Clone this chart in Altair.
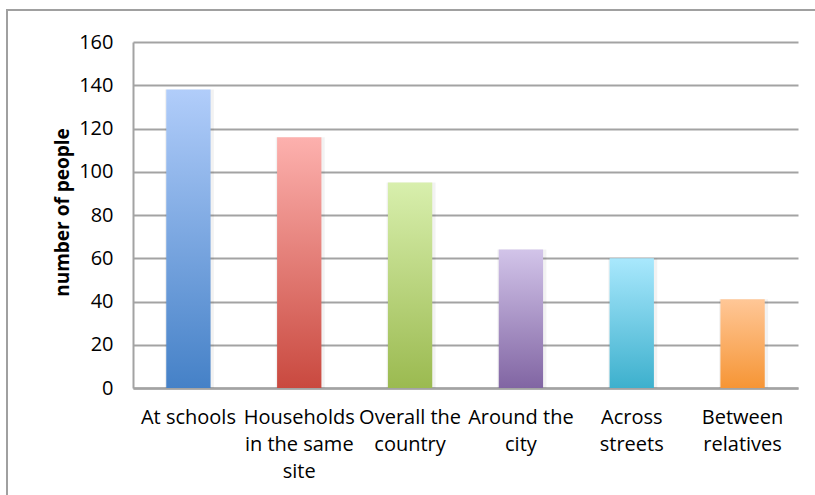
import altair as alt
import pandas as pd

# Where people were reached, and how many
categories = [
    "At schools",
    "Households\nin the same\nsite",
    "Overall the\ncountry",
    "Around the\ncity",
    "Across\nstreets",
    "Between\nrelatives",
]
people = [138, 116, 95, 64, 60, 41]

# Vertical gradient for each bar: light top, saturated bottom
top_colors = ["#b1cdfa", "#fdb1ae", "#d8efad", "#d2c4e9", "#a9e8fd", "#ffc797"]
bottom_colors = ["#4581c7", "#c9493f", "#9bba50", "#8165a3", "#3db0cd", "#f69535"]

y_ticks = [0, 20, 40, 60, 80, 100, 120, 140, 160]

df = pd.DataFrame({"place": categories, "people": people})

FONT = "Open Sans"
GRID = "#a3a3a3"

base = alt.Chart(df).encode(
    x=alt.X(
        "place:N",
        sort=categories,
        scale=alt.Scale(paddingInner=0.6, paddingOuter=0.3),
        axis=alt.Axis(
            title=None,
            labelAngle=0,
            labelExpr="split(datum.label, '\\n')",
            labelFont=FONT,
            labelFontSize=20,
            labelColor="#000000",
            labelLineHeight=27,
            labelPadding=19,
            labelBaseline="top",
            ticks=False,
            domainColor=GRID,
            domainWidth=2.5,
        ),
    ),
    y=alt.Y(
        "people:Q",
        scale=alt.Scale(domain=[0, 160], nice=False),
        axis=alt.Axis(
            title="number of people",
            values=y_ticks,
            titleFont=FONT,
            titleFontSize=19,
            titleFontWeight="bold",
            titleColor="#000000",
            titleAngle=-90,
            titleX=-71,
            titleY=170,
            titleAlign="center",
            titleBaseline="middle",
            labelFont=FONT,
            labelFontSize=20,
            labelColor="#000000",
            labelPadding=20,
            ticks=False,
            domainColor=GRID,
            domainWidth=2,
            gridColor=GRID,
            gridWidth=1.8,
        ),
    ),
)

layers = []
for name, c_top, c_bottom in zip(categories, top_colors, bottom_colors):
    grad = alt.LinearGradient(
        gradient="linear",
        x1=0, x2=0, y1=0, y2=1,
        stops=[
            alt.GradientStop(color=c_top, offset=0),
            alt.GradientStop(color=c_bottom, offset=1),
        ],
    )
    # soft drop shadow behind each bar
    layers.append(
        base.transform_filter(alt.datum.place == name).mark_bar(
            color="#000000", opacity=0.05, xOffset=1, size=49
        )
    )
    layers.append(
        base.transform_filter(alt.datum.place == name).mark_bar(fill=grad)
    )

# chart-area frame
frame = alt.Chart(pd.DataFrame({"k": [0]})).mark_rect(
    fill=None, stroke="#a0a0a0", strokeWidth=2
).encode(
    x=alt.value(-126), x2=alt.value(692), y=alt.value(-32), y2=alt.value(463)
)

chart = alt.layer(frame, *layers).properties(
    width=665,
    height=346,
    autosize=alt.AutoSizeParams(type="none"),
    padding={"left": 133, "top": 42, "right": 17, "bottom": 107},
    background="#ffffff",
).configure_view(stroke=None)

chart.save("out.html", embed_options={"renderer": "svg", "actions": False})
